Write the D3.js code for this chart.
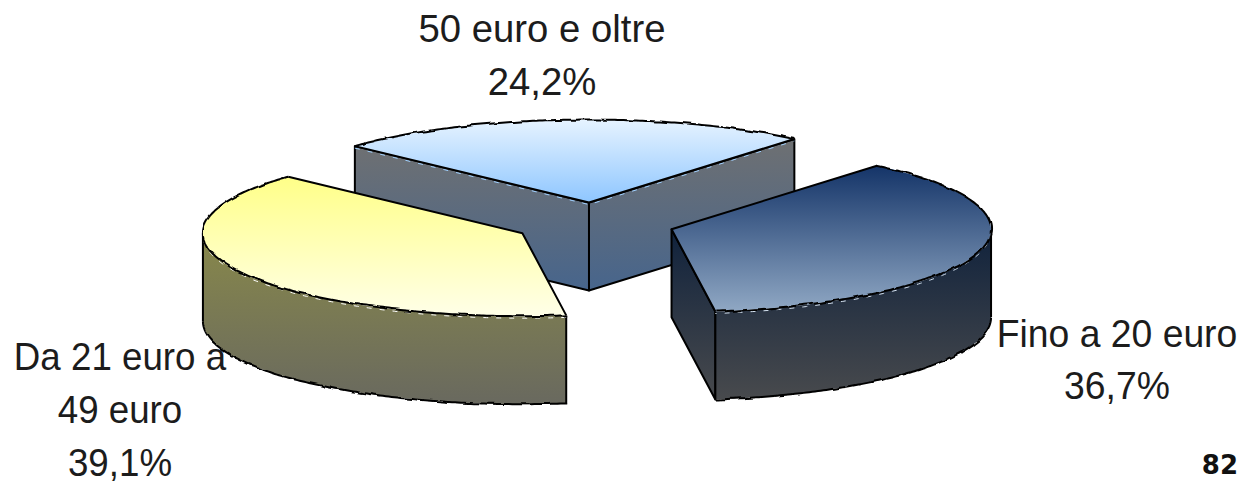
<!DOCTYPE html>
<html>
<head>
<meta charset="utf-8">
<script src="https://cdn.jsdelivr.net/npm/d3@7/dist/d3.min.js"></script>
<style>
  html, body { margin: 0; padding: 0; background: #fff; }
  svg { display: block; }
  .lbl { font-family: "Liberation Sans", Arial, sans-serif; font-size: 39.5px; fill: #1c1c1c; text-anchor: middle; }
  .page { font-family: "DejaVu Sans", sans-serif; font-weight: bold; font-size: 26px; fill: #111; text-anchor: end; }
</style>
</head>
<body>
<svg id="chart" width="1241" height="481"></svg>
<script>
var categories = ["Fino a 20 euro", "Da 21 euro a 49 euro", "50 euro e oltre"];
var values = [36.7, 39.1, 24.2];
var valueLabels = ["36,7%", "39,1%", "24,2%"];
var labelLines = [
  ["Fino a 20 euro", "36,7%"],
  ["Da 21 euro a", "49 euro", "39,1%"],
  ["50 euro e oltre", "24,2%"]
];
var pageNumber = "82";

// top / side gradient colours, same order as categories
var topColors = [["#143468", "#90a8c4"], ["#ffff88", "#ffffe8"], ["#e6f3ff", "#8ec6ff"]];
var wallColors = [["#10223c", "#484a4d"], ["#88884a", "#69695f"], ["#6e7072", "#47658c"]];
var seamColors = ["#d5e2f0", "#ffffff", "#9fd0ff"];

var cx = 594, cy = 223.5, rx = 319.5, ry = 83, depth = 88, explode = 80.7;
var startDeg = 40;
var labelX = [1117, 120, 542];
var labelY = [347, 370, 41.5];
var labelStep = [52, 53, 53];
var labelSquash = [0.945, 0.93, 0.97];

var svg = d3.select("#chart");
var defs = svg.append("defs");

// curved rims are a bit jagged in the picture
var rough = defs.append("filter").attr("id", "rough")
  .attr("filterUnits", "userSpaceOnUse")
  .attr("x", 0).attr("y", 0).attr("width", 1241).attr("height", 481)
  .attr("color-interpolation-filters", "sRGB");
rough.append("feTurbulence").attr("type", "fractalNoise")
  .attr("baseFrequency", 0.07).attr("numOctaves", 2).attr("seed", 4).attr("result", "n");
rough.append("feDisplacementMap").attr("in", "SourceGraphic").attr("in2", "n")
  .attr("scale", 4).attr("xChannelSelector", "R").attr("yChannelSelector", "G");

function addGradient(id, colors) {
  var g = defs.append("linearGradient").attr("id", id)
    .attr("x1", 0).attr("y1", 0).attr("x2", 0).attr("y2", 1);
  g.append("stop").attr("offset", "0%").attr("stop-color", colors[0]);
  g.append("stop").attr("offset", "100%").attr("stop-color", colors[1]);
}
topColors.forEach(function(c, i) { addGradient("top" + i, c); });
wallColors.forEach(function(c, i) { addGradient("wall" + i, c); });

var start = startDeg * Math.PI / 180;
var pie = d3.pie().sort(null).startAngle(start).endAngle(start + 2 * Math.PI);
var slices = pie(values);

var xs = d3.scaleLinear().domain([-1, 1]).range([-rx, rx]);
var ys = d3.scaleLinear().domain([-1, 1]).range([-ry, ry]);

var line = d3.line().x(function(d) { return d[0]; }).y(function(d) { return d[1]; });

function rim(c, a) { return [c[0] + xs(Math.sin(a)), c[1] + ys(-Math.cos(a))]; }
function drop(p) { return [p[0], p[1] + depth]; }
function arcPoints(c, a0, a1) {
  var n = Math.max(2, Math.ceil(Math.abs(a1 - a0) / 0.01));
  return d3.range(n + 1).map(function(i) { return rim(c, a0 + (a1 - a0) * i / n); });
}
function centerOf(s) {
  var mid = (s.startAngle + s.endAngle) / 2;
  return [cx + explode * Math.sin(mid), cy + explode * (ry / rx) * -Math.cos(mid)];
}
function seam(g, pts, color) {
  g.append("path").attr("d", line(pts)).attr("fill", "none")
    .attr("transform", "translate(0,2)")
    .attr("stroke", color).attr("stroke-width", 1)
    .attr("stroke-dasharray", "5 8");
}

var stroke = "#000", sw = 2;
var chart = svg.append("g").attr("stroke-linejoin", "round");

// back slice first, so the two front ones cover it
[2, 1, 0].forEach(function(i) {
  var s = slices[i], c = centerOf(s), a0 = s.startAngle, a1 = s.endAngle;
  var g = chart.append("g").attr("class", "slice");

  // cut faces which look toward the viewer
  [[a0, -Math.sin(a0)], [a1, Math.sin(a1)]].forEach(function(f) {
    if (f[1] <= 0) return;
    var r = rim(c, f[0]);
    g.append("path").attr("d", line([c, r, drop(r), drop(c)]) + "Z")
      .attr("fill", "url(#wall" + i + ")").attr("stroke", stroke).attr("stroke-width", sw);
  });

  // outer wall, front half of the ellipse only
  var w0 = Math.max(a0, Math.PI / 2), w1 = Math.min(a1, 3 * Math.PI / 2);
  var upper = [];
  if (w1 > w0) {
    upper = arcPoints(c, w0, w1);
    var lower = upper.map(drop).reverse();
    g.append("path").attr("d", line(upper.concat(lower)) + "Z").attr("fill", "url(#wall" + i + ")");
    g.append("path").attr("d", line(lower)).attr("fill", "none")
      .attr("stroke", stroke).attr("stroke-width", sw).attr("filter", "url(#rough)");
    // vertical edges
    [w0, w1].forEach(function(a) {
      var p = rim(c, a);
      g.append("path").attr("d", line([p, drop(p)])).attr("stroke", stroke).attr("stroke-width", sw);
    });
    seam(g, upper, seamColors[i]);
  } else {
    // back slice: seams run along its two cut edges
    seam(g, [rim(c, a0), c, rim(c, a1)], seamColors[i]);
  }

  // top surface
  var rimPts = arcPoints(c, a0, a1);
  g.append("path").attr("d", line([c].concat(rimPts)) + "Z").attr("fill", "url(#top" + i + ")");
  g.append("path").attr("d", line([rimPts[rimPts.length - 1], c, rimPts[0]])).attr("fill", "none")
    .attr("stroke", stroke).attr("stroke-width", sw);
  g.append("path").attr("d", line(rimPts)).attr("fill", "none")
    .attr("stroke", stroke).attr("stroke-width", sw).attr("filter", "url(#rough)");
});

// labels: the reference type is taller and narrower than Liberation at the same width
labelLines.forEach(function(lines, i) {
  lines.forEach(function(txt, j) {
    svg.append("text").attr("class", "lbl")
      .attr("transform", "translate(" + labelX[i] + "," + (labelY[i] + j * labelStep[i]) + ") scale(" + labelSquash[i] + ",1)")
      .text(txt);
  });
});

svg.append("text").attr("class", "page").attr("x", 1238).attr("y", 474).text(pageNumber);
</script>
</body>
</html>
